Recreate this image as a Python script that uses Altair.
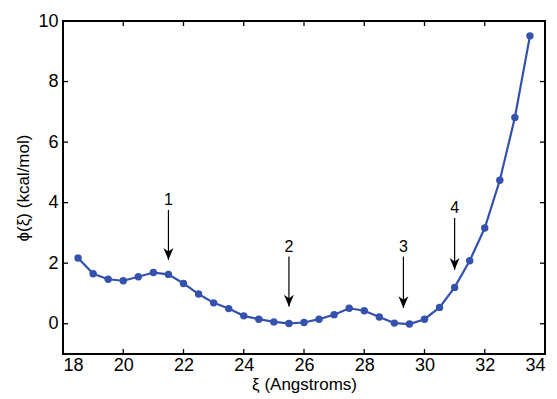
import altair as alt
import pandas as pd

# --- data ---
xi = [18.5, 19.0, 19.5, 20.0, 20.5, 21.0, 21.5, 22.0, 22.5, 23.0, 23.5, 24.0,
      24.5, 25.0, 25.5, 26.0, 26.5, 27.0, 27.5, 28.0, 28.5, 29.0, 29.5, 30.0,
      30.5, 31.0, 31.5, 32.0, 32.5, 33.0, 33.5]
phi = [2.17, 1.65, 1.47, 1.42, 1.55, 1.69, 1.63, 1.33, 0.98, 0.69, 0.50, 0.26,
       0.15, 0.06, 0.01, 0.04, 0.15, 0.30, 0.51, 0.43, 0.22, 0.02, -0.01, 0.15,
       0.54, 1.20, 2.08, 3.16, 4.74, 6.81, 9.51]

arrow_labels = ["1", "2", "3", "4"]
arrow_x = [21.5, 25.5, 29.3, 31.0]
arrow_top = [3.76, 2.22, 2.22, 3.49]
arrow_tip = [2.11, 0.57, 0.52, 1.78]

x_ticks = [18, 20, 22, 24, 26, 28, 30, 32, 34]
y_ticks = [0, 2, 4, 6, 8, 10]

W, H = 482, 333
FONT = "Liberation Sans"
BLUE = "#3452ad"

df = pd.DataFrame({"xi": xi, "phi": phi})
arrows = pd.DataFrame({"label": arrow_labels, "x": arrow_x,
                       "top": arrow_top, "tip": arrow_tip})
xt = pd.DataFrame({"t": x_ticks[1:-1]})
yt = pd.DataFrame({"t": y_ticks[:-1]})

xs = alt.Scale(domain=[18, 34], nice=False, zero=False)
ys = alt.Scale(domain=[-1, 10], nice=False, zero=False)

xaxis = alt.Axis(values=x_ticks, title="ξ (Angstroms)", grid=False, ticks=False,
                 domain=False, labelPadding=2, titlePadding=2, format="d",
                 labelFontSize=18)
yaxis = alt.Axis(values=y_ticks, title="ϕ(ξ) (kcal/mol)", grid=False, ticks=False,
                 domain=False, labelPadding=5, titlePadding=5, format="d",
                 labelFontSize=18)

base = alt.Chart(df)
line = base.mark_line(color=BLUE, strokeWidth=2.2).encode(
    x=alt.X("xi:Q", scale=xs, axis=xaxis),
    y=alt.Y("phi:Q", scale=ys, axis=yaxis),
)
pts = base.mark_circle(color=BLUE, size=55, opacity=1).encode(
    x=alt.X("xi:Q", scale=xs), y=alt.Y("phi:Q", scale=ys)
)

ar = alt.Chart(arrows)
shafts = ar.mark_rule(color="black", strokeWidth=1.2).encode(
    x=alt.X("x:Q", scale=xs), y=alt.Y("top:Q", scale=ys), y2="tip:Q"
)
heads = ar.mark_point(
    shape="M -0.42 -1 L 0 0 L 0.42 -1 L 0 -0.7 Z", filled=True, color="black",
    opacity=1, size=560, strokeWidth=0,
).encode(x=alt.X("x:Q", scale=xs), y=alt.Y("tip:Q", scale=ys))
labels = ar.mark_text(font=FONT, fontSize=16, baseline="bottom", dy=-2,
                      color="black").encode(
    x=alt.X("x:Q", scale=xs), y=alt.Y("top:Q", scale=ys), text="label:N"
)

tk = dict(color="black", strokeWidth=1.3)
tb = alt.Chart(xt).mark_rule(**tk).encode(
    x=alt.X("t:Q", scale=xs), y=alt.value(H), y2=alt.value(H - 5))
tt = alt.Chart(xt).mark_rule(**tk).encode(
    x=alt.X("t:Q", scale=xs), y=alt.value(0), y2=alt.value(5))
tl = alt.Chart(yt).mark_rule(**tk).encode(
    y=alt.Y("t:Q", scale=ys), x=alt.value(0), x2=alt.value(5))
tr = alt.Chart(yt).mark_rule(**tk).encode(
    y=alt.Y("t:Q", scale=ys), x=alt.value(W), x2=alt.value(W - 5))

chart = alt.layer(line, pts, shafts, heads, labels, tb, tt, tl, tr).properties(
    width=W, height=H,
    autosize=alt.AutoSizeParams(type="none"),
    padding={"left": 55, "top": 13, "right": 4, "bottom": 40},
).configure_view(
    stroke="black", strokeWidth=2
).configure_axis(
    labelFont=FONT, titleFont=FONT, titleFontSize=17,
    labelColor="black", titleColor="black", titleFontWeight="normal",
)

chart.save("out.html", embed_options={"renderer": "svg", "actions": False})
